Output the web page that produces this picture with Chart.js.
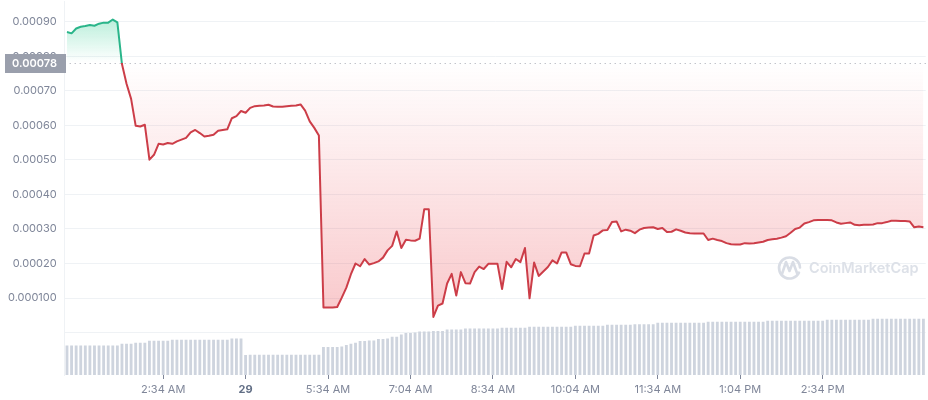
<!DOCTYPE html>
<html>
<head>
<meta charset="utf-8">
<title>Price chart</title>
<script src="https://cdn.jsdelivr.net/npm/chart.js@4/dist/chart.umd.min.js"></script>
<style>
  html, body { margin: 0; padding: 0; background: #fff; }
  canvas { display: block; }
</style>
</head>
<body>
<canvas id="price-chart" width="928" height="400"></canvas>
<script>
const BASE_PRICE = 0.00078;

const priceTicks = [0.0009, 0.0008, 0.0007, 0.0006, 0.0005, 0.0004, 0.0003, 0.0002, 0.0001, 0];
const priceTickLabels = ["0.00090", "0.00080", "0.00070", "0.00060", "0.00050", "0.00040", "0.00030", "0.00020", "0.000100", ""];

const timeTickIndex = [21, 39, 57, 75, 93, 111, 129, 147, 165];
const timeTickLabels = ["2:34 AM", "29", "5:34 AM", "7:04 AM", "8:34 AM", "10:04 AM", "11:34 AM", "1:04 PM", "2:34 PM"];

const prices = [
  87.1, 86.7, 88.1, 88.6, 88.8, 89.1, 88.9, 89.5, 89.8, 89.8, 90.7, 89.9,
  77.8, 72.1, 67.7, 59.9, 59.7, 60.2, 50.1, 51.5, 54.7, 54.5, 54.9, 54.7,
  55.4, 55.9, 56.4, 58.0, 58.7, 57.8, 56.8, 57.0, 57.3, 58.5, 58.7, 58.9,
  62.1, 62.7, 64.2, 63.7, 65.1, 65.6, 65.7, 65.8, 66.0, 65.5, 65.4, 65.4,
  65.6, 65.7, 65.8, 66.1, 64.3, 61.2, 59.3, 57.1, 7.25, 7.25, 7.25, 7.4,
  10.1, 13.0, 16.9, 20.0, 19.2, 21.3, 19.7, 20.1, 20.6, 21.7, 23.8, 25.1,
  29.3, 24.5, 26.9, 26.7, 26.6, 27.2, 35.7, 35.7, 4.5, 7.8, 8.4, 14.2,
  17.0, 10.7, 17.5, 14.3, 14.2, 17.5, 19.1, 18.4, 19.9, 19.9, 19.9, 12.6,
  20.5, 18.9, 21.3, 20.4, 24.5, 9.9, 20.3, 16.4, 17.7, 19.0, 20.9, 20.0,
  23.2, 23.2, 19.8, 19.3, 19.2, 22.9, 22.9, 28.1, 28.6, 29.6, 29.7, 32.0,
  32.2, 29.3, 29.8, 29.5, 28.8, 29.8, 30.3, 30.4, 30.5, 30.0, 30.3, 29.1,
  29.2, 29.9, 29.5, 29.0, 28.8, 28.7, 28.7, 28.7, 26.8, 27.2, 26.8, 26.5,
  25.9, 25.6, 25.5, 25.5, 25.9, 25.8, 25.9, 26.1, 26.3, 26.8, 27.0, 27.2,
  27.5, 27.9, 28.9, 30.0, 30.4, 31.6, 32.0, 32.5, 32.6, 32.6, 32.6, 32.5,
  31.9, 31.5, 31.7, 31.9, 31.2, 31.1, 31.2, 31.2, 31.3, 31.7, 31.7, 32.0,
  32.4, 32.4, 32.3, 32.3, 32.2, 30.5, 30.7, 30.5
].map((v) => v / 100000);

const volumes = [
  29.7, 29.7, 29.7, 29.7, 29.7, 29.7, 29.7, 29.7, 29.7, 29.7, 29.7, 29.7,
  31.4, 31.4, 31.4, 32.4, 32.4, 32.4, 34.4, 34.4, 34.4, 34.4, 34.4, 35.4,
  35.4, 35.4, 35.4, 35.4, 35.4, 35.4, 35.4, 35.4, 35.4, 35.4, 35.4, 35.4,
  36.7, 36.7, 36.7, 20.0, 20.4, 20.4, 20.4, 20.4, 20.4, 20.4, 20.4, 20.4,
  20.4, 20.4, 20.4, 20.4, 20.4, 20.4, 20.4, 20.4, 28.0, 28.0, 28.0, 28.0,
  28.7, 30.0, 31.4, 32.4, 34.0, 34.0, 34.7, 34.7, 36.0, 36.0, 36.7, 38.4,
  38.4, 40.7, 42.0, 42.0, 42.7, 43.7, 43.7, 43.7, 44.0, 44.0, 44.0, 45.7,
  45.7, 45.7, 45.7, 46.7, 46.7, 46.7, 46.7, 46.7, 46.7, 46.7, 46.7, 47.4,
  47.4, 47.4, 47.4, 47.4, 47.4, 48.4, 48.4, 48.4, 48.4, 48.4, 48.4, 48.4,
  48.4, 48.4, 48.4, 49.4, 49.4, 49.4, 49.4, 49.4, 49.4, 49.4, 50.4, 50.4,
  50.4, 50.4, 50.4, 50.4, 51.0, 51.0, 51.0, 51.0, 51.0, 52.4, 52.4, 52.4,
  52.4, 52.4, 52.4, 52.4, 52.4, 52.4, 52.4, 52.4, 53.4, 53.4, 53.4, 53.4,
  53.4, 53.4, 53.4, 53.4, 53.4, 53.4, 53.4, 53.4, 53.4, 54.4, 54.4, 54.4,
  54.4, 54.4, 54.4, 54.4, 54.4, 54.4, 54.4, 54.4, 54.4, 54.4, 55.4, 55.4,
  55.4, 55.4, 55.4, 55.4, 55.4, 55.4, 55.4, 55.4, 56.4, 56.4, 56.4, 56.4,
  56.4, 56.4, 56.4, 56.4, 56.4, 56.4, 56.4, 56.4
];

const GREY_TEXT = "#7f8699";
const GRID = "#eff2f5";
const FONT = "Inter, 'Noto Sans', sans-serif";

// Dotted base price line, its grey tag and the watermark
const overlayPlugin = {
  id: "overlay",
  afterDraw(chart) {
    const { ctx, chartArea, scales } = chart;
    const y = Math.round(scales.y.getPixelForValue(BASE_PRICE)) + 0.5;
    ctx.save();
    ctx.strokeStyle = "#a6a9b3";
    ctx.lineWidth = 1;
    ctx.setLineDash([1, 4]);
    ctx.beginPath();
    ctx.moveTo(chartArea.left, y);
    ctx.lineTo(chartArea.right, y);
    ctx.stroke();
    ctx.setLineDash([]);

    ctx.fillStyle = "#9a9fac";
    ctx.fillRect(5, y - 9.5, 61, 19);
    ctx.fillStyle = "#fff";
    ctx.font = "600 11px " + FONT;
    ctx.textAlign = "right";
    ctx.textBaseline = "middle";
    ctx.fillText(BASE_PRICE.toFixed(5), 57, y + 0.5);

    // CoinMarketCap watermark
    ctx.strokeStyle = "#d9dde5";
    ctx.lineWidth = 2.6;
    ctx.lineJoin = "round";
    ctx.lineCap = "round";
    ctx.beginPath();
    ctx.arc(789.5, 268, 10.5, 0.45, Math.PI * 2 - 0.05);
    ctx.stroke();
    ctx.beginPath();
    ctx.moveTo(782, 274);
    ctx.lineTo(786, 262);
    ctx.lineTo(789.5, 271);
    ctx.lineTo(793, 262);
    ctx.lineTo(797, 273);
    ctx.stroke();
    ctx.fillStyle = "#dde1e8";
    ctx.font = "600 14.5px " + FONT;
    ctx.textAlign = "left";
    ctx.fillText("CoinMarketCap", 809, 269);
    ctx.restore();
  },
};

const chart = new Chart(document.getElementById("price-chart"), {
  data: {
    labels: prices.map((_, i) => i),
    datasets: [
      {
        type: "line",
        data: prices,
        yAxisID: "y",
        order: 0,
        borderColor: "#ea3943",
        borderWidth: 2,
        borderJoinStyle: "round",
        pointRadius: 0,
        tension: 0,
        fill: { target: { value: BASE_PRICE }, above: "rgba(22,199,132,0.15)", below: "rgba(234,57,67,0.15)" },
      },
      {
        type: "bar",
        data: volumes,
        yAxisID: "yVolume",
        order: 1,
        backgroundColor: "#ced4de",
        categoryPercentage: 1,
        barPercentage: 0.62,
      },
    ],
  },
  options: {
    responsive: false,
    animation: false,
    devicePixelRatio: 1,
    events: [],
    layout: { padding: { right: 2.3, top: 0, bottom: 0, left: 0 } },
    plugins: { legend: { display: false }, tooltip: { enabled: false } },
    scales: {
      x: {
        type: "category",
        offset: true,
        afterBuildTicks(scale) {
          scale.ticks = timeTickIndex.map((i) => ({ value: i }));
        },
        afterFit(scale) {
          scale.height = 25;
          scale.paddingLeft = 0;
          scale.paddingRight = 0;
        },
        grid: { offset: false, drawOnChartArea: false, tickLength: 4, tickColor: GREY_TEXT, tickWidth: 1 },
        border: { display: false },
        ticks: {
          autoSkip: false,
          maxRotation: 0,
          padding: 4,
          color: (ctx) => (ctx.tick && ctx.tick.label === "29" ? "#616e85" : GREY_TEXT),
          font: (ctx) => ({
            family: FONT,
            size: 11,
            weight: ctx.tick && ctx.tick.label === "29" ? "700" : "400",
          }),
          callback: (value) => timeTickLabels[timeTickIndex.indexOf(value)],
        },
      },
      y: {
        position: "left",
        min: -0.0001231,
        max: 0.0009607,
        afterBuildTicks(scale) {
          scale.ticks = priceTicks.map((value) => ({ value }));
        },
        afterFit(scale) {
          scale.width = 64.7;
          scale.paddingTop = 0;
          scale.paddingBottom = 0;
        },
        grid: { color: GRID, drawTicks: false },
        border: { color: GRID },
        ticks: {
          padding: 8,
          color: GREY_TEXT,
          font: { family: FONT, size: 11 },
          callback: (value) => priceTickLabels[priceTicks.indexOf(value)],
        },
      },
      yVolume: {
        display: false,
        min: 0,
        max: 375,
      },
    },
  },
  plugins: [overlayPlugin],
});

// Gradients need the final chart area, so they are set after the first layout
function applyGradients() {
  const ctx = chart.ctx;
  const yBase = chart.scales.y.getPixelForValue(BASE_PRICE);
  const bottom = chart.chartArea.bottom;
  const ds = chart.data.datasets[0];

  const stroke = ctx.createLinearGradient(0, 0, 0, bottom);
  const stop = yBase / bottom;
  stroke.addColorStop(0, "#2ab58a");
  stroke.addColorStop(stop, "#2ab58a");
  stroke.addColorStop(stop, "#cc3d48");
  stroke.addColorStop(1, "#cc3d48");
  ds.borderColor = stroke;

  const above = ctx.createLinearGradient(0, chart.scales.y.getPixelForValue(0.00091), 0, yBase);
  above.addColorStop(0, "rgba(22,199,132,0.3)");
  above.addColorStop(1, "rgba(22,199,132,0)");

  const below = ctx.createLinearGradient(0, yBase, 0, chart.scales.y.getPixelForValue(0.00004));
  below.addColorStop(0, "rgba(234,57,67,0)");
  below.addColorStop(1, "rgba(234,57,67,0.28)");

  ds.fill = { target: { value: BASE_PRICE }, above, below };
  chart.update("none");
}

applyGradients();
</script>
</body>
</html>
